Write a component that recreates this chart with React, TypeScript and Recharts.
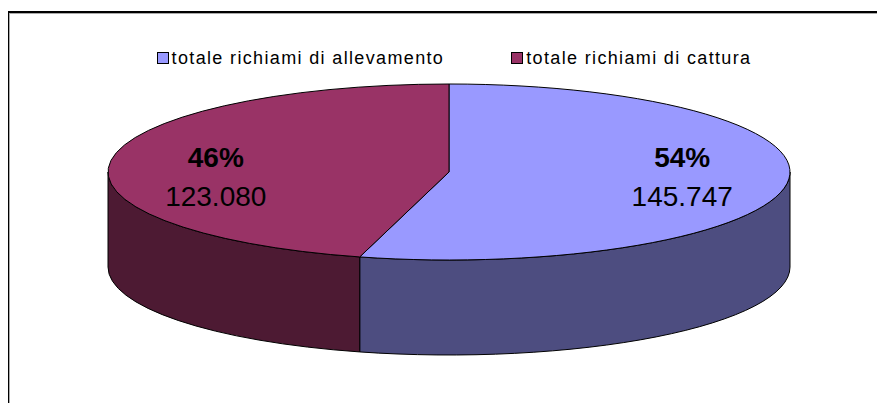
import React from 'react';
import { PieChart, Pie, Cell, Legend } from 'recharts';

const categories = ['totale richiami di allevamento', 'totale richiami di cattura'];
const values = [145747, 123080];
const topColors = ['#9999FF', '#993366'];
const sideColors = ['#4D4D80', '#4D1A33'];

const data = categories.map((name, i) => ({ name, value: values[i] }));

const W = 874;
const H = 393;
const RX = 341;
const RY = 88;
const DEPTH = 95;
const RAD = Math.PI / 180;
const FONT = "'Liberation Sans', Arial, sans-serif";

const pt = (cx: number, cy: number, rx: number, ry: number, a: number) => [
  cx + rx * Math.cos(a * RAD),
  cy - ry * Math.sin(a * RAD),
];

const formatIt = (v: number) => String(v).replace(/\B(?=(\d{3})+(?!\d))/g, '.');

// flattened pie slice with a visible front wall
function Slice3D(props: any) {
  const { cx, cy, outerRadius, startAngle, endAngle, fill } = props;
  const rx = outerRadius;
  const ry = outerRadius * (RY / RX);
  const hi = Math.max(startAngle, endAngle);
  const lo = Math.min(startAngle, endAngle);
  const idx = categories.indexOf(props.name ?? props.payload?.name);
  const side = sideColors[idx] ?? '#333';

  const walls: string[] = [];
  for (const k of [-1, 0, 1]) {
    const a = Math.max(lo, -180 + 360 * k);
    const b = Math.min(hi, 360 * k);
    if (b - a > 0.01) {
      const [x1, y1] = pt(cx, cy, rx, ry, b);
      const [x2, y2] = pt(cx, cy, rx, ry, a);
      walls.push(
        `M${x1},${y1} A${rx},${ry} 0 0 1 ${x2},${y2} L${x2},${y2 + DEPTH} A${rx},${ry} 0 0 0 ${x1},${y1 + DEPTH} Z`
      );
    }
  }

  const [sx, sy] = pt(cx, cy, rx, ry, hi);
  const [ex, ey] = pt(cx, cy, rx, ry, lo);
  const large = hi - lo > 180 ? 1 : 0;
  const top = `M${cx},${cy} L${sx},${sy} A${rx},${ry} 0 ${large} 1 ${ex},${ey} Z`;

  return (
    <g>
      {walls.map((d, i) => (
        <path key={i} d={d} fill={side} stroke="#000" strokeWidth={1} />
      ))}
      <path d={top} fill={fill} stroke="#000" strokeWidth={1} />
    </g>
  );
}

function renderLabel(props: any) {
  const { cx, cy, midAngle, outerRadius, percent, value } = props;
  const x = cx + outerRadius * 0.69 * Math.cos(midAngle * RAD);
  return (
    <g>
      <text x={x} y={cy - 5} textAnchor="middle" fontFamily={FONT} fontSize={28} fontWeight="bold" fill="#000">
        {Math.round(percent * 100)}%
      </text>
      <text x={x} y={cy + 34} textAnchor="middle" fontFamily={FONT} fontSize={28} fill="#000">
        {formatIt(value)}
      </text>
    </g>
  );
}

function renderLegend(props: any) {
  const payload = props.payload || [];
  return (
    <div style={{ display: 'flex', justifyContent: 'center', gap: 67, fontFamily: FONT, fontSize: 18, letterSpacing: 1.35, lineHeight: '22px', color: '#000' }}>
      {payload.map((entry: any, i: number) => (
        <div key={entry.value} style={{ display: 'flex', alignItems: 'center' }}>
          <span style={{ display: 'inline-block', width: 10, height: 10, border: '1px solid #000', background: topColors[i], marginRight: 3 }} />
          <span>{entry.value}</span>
        </div>
      ))}
    </div>
  );
}

export default function App() {
  return (
    <div
      style={{
        position: 'relative',
        top: 3,
        left: -1,
        width: 876,
        height: 395,
        borderTop: '2px solid #000',
        borderLeft: '2px solid #000',
        boxShadow: 'inset 1px 1px 0 #aaa',
        boxSizing: 'border-box',
        background: '#fff',
      }}
    >
      <PieChart width={W} height={H}>
        <Legend
          verticalAlign="top"
          content={renderLegend}
          wrapperStyle={{ position: 'absolute', top: 34, left: 8, width: W }}
        />
        <Pie
          data={data}
          dataKey="value"
          nameKey="name"
          cx={435}
          cy={132}
          outerRadius={RX}
          startAngle={90}
          endAngle={-270}
          shape={Slice3D}
          label={renderLabel}
          labelLine={false}
          isAnimationActive={false}
        >
          {data.map((entry, i) => (
            <Cell key={entry.name} fill={topColors[i]} />
          ))}
        </Pie>
      </PieChart>
    </div>
  );
}
